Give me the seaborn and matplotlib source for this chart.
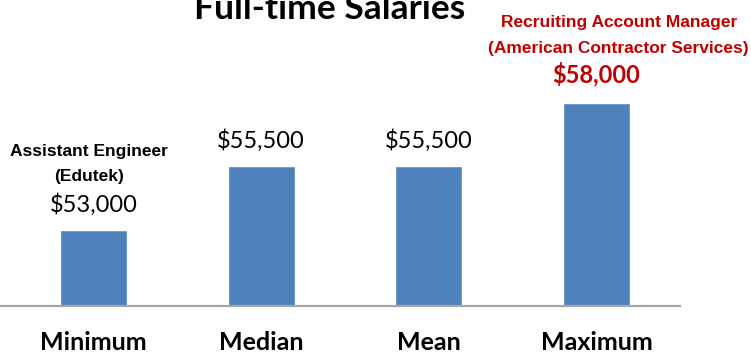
import matplotlib
matplotlib.use("Agg")
import matplotlib.pyplot as plt
import seaborn as sns
import pandas as pd

categories = ["Minimum", "Median", "Mean", "Maximum"]
salaries = [53000, 55500, 55500, 58000]
value_labels = ["$53,000", "$55,500", "$55,500", "$58,000"]
min_note = "Assistant Engineer\n(Edutek)"
max_note = "Recruiting Account Manager\n(American Contractor Services)"
title = "Full-time Salaries"

df = pd.DataFrame({"category": categories, "salary": salaries})

sns.set_theme(style="white")
plt.rcParams["font.family"] = ["Lato", "DejaVu Sans"]

BAR = "#4F81BD"
RED = "#C00000"
NARROW = ["Liberation Sans Narrow", "Liberation Sans", "DejaVu Sans"]

fig = plt.figure(figsize=(7.51, 3.52), dpi=100)
ax = fig.add_axes([0.0, 46 / 352, 680 / 751, 305 / 352])

sns.barplot(data=df, x="category", y="salary", color=BAR, width=0.4,
            saturation=1, ax=ax)

ax.set_ylim(50000, 62000)
ax.set_xlim(-0.557, 3.497)
ax.set_xlabel("")
ax.set_ylabel("")
ax.set_yticks([])
for side in ("left", "right", "top"):
    ax.spines[side].set_visible(False)
ax.spines["bottom"].set_color("#A6A6A6")
ax.spines["bottom"].set_linewidth(1.6)
ax.tick_params(axis="x", length=0, pad=18)
ax.set_xticks(range(len(categories)))
ax.set_xticklabels(categories, fontsize=18, fontweight="bold", color="black")

# value labels above the bars
offsets = [18, 18, 18, 20]
for i, (val, lab, off) in enumerate(zip(salaries, value_labels, offsets)):
    if i == 3:
        ax.annotate(lab, (i, val), xytext=(0, off), textcoords="offset pixels",
                    ha="center", va="baseline", fontsize=17, fontweight="bold",
                    color=RED)
    else:
        ax.annotate(lab, (i, val), xytext=(0, off), textcoords="offset pixels",
                    ha="center", va="baseline", fontsize=17, color="black")

# job notes for the extremes
ax.annotate(min_note, (0, salaries[0]), xytext=(-4, 49), textcoords="offset pixels",
            ha="center", va="baseline", fontsize=12.5, fontweight="bold",
            family=NARROW, linespacing=1.85, color="black")
ax.annotate(max_note, (3, salaries[3]), xytext=(22, 50), textcoords="offset pixels",
            ha="center", va="baseline", fontsize=12.5, fontweight="bold",
            family=NARROW, linespacing=1.85, color=RED)

fig.text(330 / 751, 1 - 19 / 352, title, ha="center", va="baseline",
         fontsize=25.5, fontweight="bold", color="black")

fig.savefig("out.png", dpi=100)
